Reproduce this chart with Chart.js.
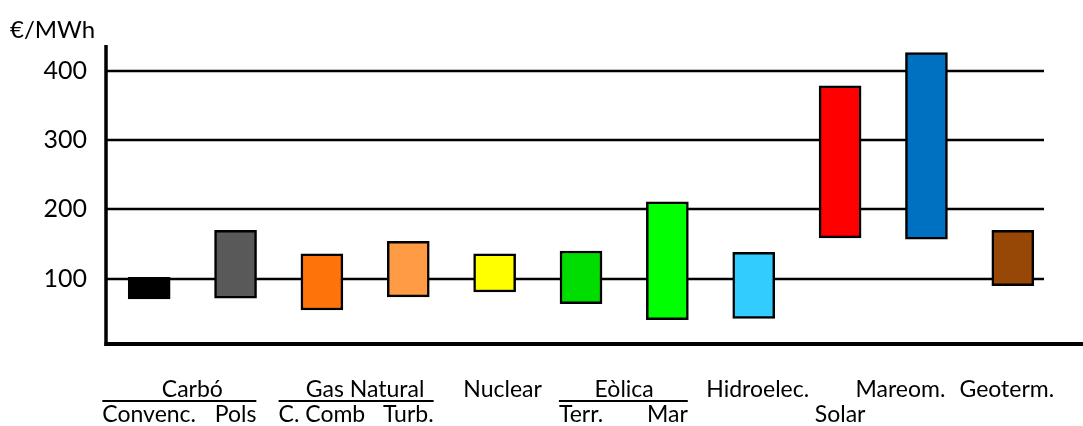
<!DOCTYPE html>
<html>
<head>
<meta charset="utf-8">
<script src="https://cdn.jsdelivr.net/npm/chart.js@4/dist/chart.umd.min.js"></script>
<style>
  html, body { margin: 0; padding: 0; background: #ffffff; }
  canvas { display: block; }
</style>
</head>
<body>
<canvas id="costChart" width="1083" height="426"></canvas>
<script>
// Generation cost ranges per technology (€/MWh)
const topLabels = ["", "", "", "", "Nuclear", "", "", "Hidroelec.", "", "Mareom.", "Geoterm."];
const subLabels = ["Convenc.", "Pols", "C. Comb", "Turb.", "", "Terr.", "Mar", "", "Solar", "", ""];
const costMin = [71, 72, 55, 74, 81, 64, 41, 43, 159, 157, 90];
const costMax = [102, 170, 136, 154, 136, 140, 211, 138, 378, 426, 170];
const barColors = ["#000000", "#595959", "#FF7409", "#FF9A45", "#FFFF00", "#00DD00", "#00FF00", "#33CCFF", "#FF0000", "#0070C0", "#974706"];
const groups = [
  { name: "Carbó", from: 0, to: 1 },
  { name: "Gas Natural", from: 2, to: 3 },
  { name: "Eòlica", from: 5, to: 6 }
];
const yTicks = [100, 200, 300, 400];
const unitLabel = "€/MWh";

const FONT = "Lato, 'Open Sans', sans-serif";
const LABEL_FONT = "23px " + FONT;
// horizontal nudges for the single-row headings so neighbours don't collide
const headingNudge = { 4: 8, 7: 4, 9: -26, 10: -6 };

const decorations = {
  id: "decorations",
  beforeDatasetsDraw(chart) {
    const { ctx, chartArea, scales } = chart;
    ctx.save();
    ctx.strokeStyle = "#000";
    ctx.lineWidth = 2.5;
    yTicks.forEach(v => {
      const y = Math.round(scales.y.getPixelForValue(v));
      ctx.beginPath();
      ctx.moveTo(chartArea.left, y);
      ctx.lineTo(chartArea.right - 12, y);
      ctx.stroke();
    });
    ctx.restore();
  },
  afterDraw(chart) {
    const { ctx, chartArea, scales } = chart;
    ctx.save();
    ctx.strokeStyle = "#000";
    // axes
    ctx.lineWidth = 3.5;
    ctx.beginPath();
    ctx.moveTo(chartArea.left, chartArea.top);
    ctx.lineTo(chartArea.left, chartArea.bottom + 2);
    ctx.stroke();
    ctx.lineWidth = 4;
    ctx.beginPath();
    ctx.moveTo(chartArea.left - 1.5, chartArea.bottom);
    ctx.lineTo(chart.width, chartArea.bottom);
    ctx.stroke();

    // unit label
    ctx.fillStyle = "#000";
    ctx.font = "24px " + FONT;
    ctx.textAlign = "left";
    ctx.textBaseline = "alphabetic";
    ctx.fillText(unitLabel, 10, 38);

    // single-row headings
    ctx.font = LABEL_FONT;
    ctx.textAlign = "center";
    topLabels.forEach((t, i) => {
      if (!t) return;
      ctx.fillText(t, scales.x.getPixelForValue(i) + (headingNudge[i] || 0), 397);
    });

    // group headings with underline spanning the sub-labels
    ctx.lineWidth = 2;
    groups.forEach(g => {
      const x0 = scales.x.getPixelForValue(g.from);
      const x1 = scales.x.getPixelForValue(g.to);
      const left = x0 - ctx.measureText(subLabels[g.from]).width / 2;
      const right = x1 + ctx.measureText(subLabels[g.to]).width / 2;
      ctx.fillText(g.name, (x0 + x1) / 2, 397);
      ctx.beginPath();
      ctx.moveTo(left, 401);
      ctx.lineTo(right, 401);
      ctx.stroke();
    });
    ctx.restore();
  }
};

new Chart(document.getElementById("costChart"), {
  type: "bar",
  data: {
    labels: subLabels.map(s => ["", s]),
    datasets: [{
      data: costMin.map((v, i) => [v, costMax[i]]),
      backgroundColor: barColors,
      borderColor: "#000000",
      borderWidth: 2.5,
      borderSkipped: false,
      barThickness: 42
    }]
  },
  options: {
    responsive: false,
    animation: false,
    devicePixelRatio: 1,
    layout: { padding: { top: 45, right: 27, left: 0, bottom: 0 } },
    plugins: { legend: { display: false }, tooltip: { enabled: false } },
    scales: {
      x: {
        grid: { display: false, drawTicks: false },
        border: { display: false },
        ticks: {
          autoSkip: false,
          maxRotation: 0,
          padding: 32,
          color: "#000",
          font: { family: FONT, size: 23, lineHeight: "26px" }
        },
        afterFit(scale) {
          scale.height = 82;
          scale.paddingLeft = 0;
          scale.paddingRight = 0;
        }
      },
      y: {
        min: 6,
        max: 437,
        grid: { display: false, drawTicks: false },
        border: { display: false },
        ticks: {
          padding: 19,
          color: "#000",
          font: { family: FONT, size: 25 }
        },
        afterBuildTicks(axis) { axis.ticks = yTicks.map(v => ({ value: v })); },
        afterFit(scale) { scale.width = 106; }
      }
    }
  },
  plugins: [decorations]
});
</script>
</body>
</html>
